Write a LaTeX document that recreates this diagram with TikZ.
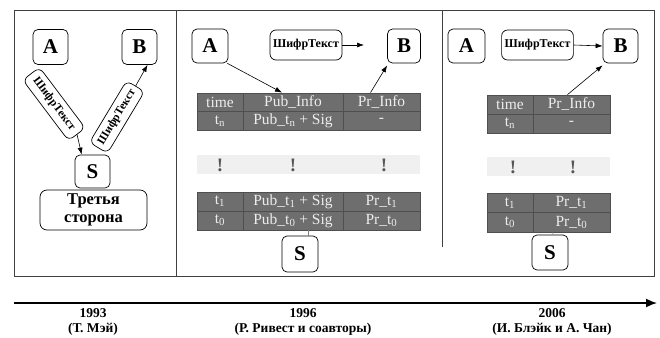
\documentclass[tikz,border=0pt]{standalone}
\usepackage{fontspec}
\setmainfont{Liberation Serif}
\usetikzlibrary{arrows.meta,calc}
\definecolor{cellfill}{HTML}{6E6E6E}
\definecolor{cellline}{HTML}{4F4F4F}
\definecolor{celltext}{HTML}{EDEDED}
\definecolor{dotband}{HTML}{F0F0F0}
\definecolor{dotcol}{HTML}{555555}
\begin{document}
\begin{tikzpicture}[x=1pt,y=-1pt,
  party/.style={draw, rounded corners=5pt, minimum width=35, minimum height=35, inner sep=0, line width=0.7pt, font=\fontsize{21}{21}\selectfont\bfseries},
  cipher/.style={draw, rounded corners=6pt, inner xsep=3, inner ysep=0, minimum height=30, line width=0.7pt, font=\fontsize{12}{12}\selectfont\bfseries},
  cell/.style={draw=cellline, fill=cellfill, text=celltext, inner sep=0, line width=0.8pt, font=\fontsize{15.5}{16}\selectfont},
  band/.style={fill=dotband, inner sep=0},
  dotmark/.style={text=dotcol, inner sep=0, font=\fontsize{19}{19}\selectfont\bfseries},
  conn/.style={-{Latex[length=7pt,width=5pt]}, line width=0.6pt},
  tick/.style={draw=gray, line width=0.6pt},
  frame/.style={line width=0.8pt, draw=black!75},
  year/.style={align=center, font=\fontsize{13.5}{15}\selectfont\bfseries},
]
\useasboundingbox (0,0) rectangle (660,337);

% frame
\coordinate (f1) at (14,10);
\coordinate (f2) at (654,276);
\draw[frame] (f1) rectangle (f2);
\coordinate (d1a) at (176,10);
\coordinate (d1b) at (176,276);
\draw[frame] (d1a) -- (d1b);
\coordinate (d2a) at (442,10);
\coordinate (d2b) at (442,247);
\draw[frame] (d2a) -- (d2b);

% ---------- panel 1993 ----------
\node[party] (lA) at (50.5,47) {A};
\node[party] (lB) at (139.5,47) {B};
\node[cipher, rotate=-53, minimum width=76, minimum height=21, font=\fontsize{11.5}{12}\selectfont\bfseries] (lc1) at (54,104) {ШифрТекст};
\node[cipher, rotate=59, minimum width=72, minimum height=21, font=\fontsize{11.5}{12}\selectfont\bfseries] (lc2) at (117,117) {ШифрТекст};
\node[party, minimum height=33] (lS) at (92.5,171.5) {S};
\node[draw, rounded corners=7pt, line width=0.7pt, minimum width=107, minimum height=40, inner sep=0, align=center, font=\fontsize{16.5}{18}\selectfont\bfseries] (l3) at (93.5,210) {Третья\\сторона};
\draw[conn] (lc1.east) -- ($(lS.north west)+(7,0)$);
\draw[conn] (lc2.east) -- ($(lB.south)+(8,0)$);

% ---------- panel 1996 ----------
\node[party, minimum width=36, minimum height=34] (mA) at (210,46) {A};
\node[party, minimum width=33, minimum height=34] (mB) at (404,46) {B};
\node[cipher, minimum width=72] (mc) at (306,45) {ШифрТекст};
\coordinate (mcend) at (364,45);
\draw[conn] (mc.east) -- (mcend);

\node[cell, minimum width=46, minimum height=18.5] (m11) at (220,102.25) {time};
\node[cell, minimum width=100, minimum height=18.5] (m12) at (293,102.25) {Pub\_Info};
\node[cell, minimum width=77, minimum height=18.5] (m13) at (381.5,102.25) {Pr\_Info};
\node[cell, minimum width=46, minimum height=18.5] (m21) at (220,120.75) {t\textsubscript{n}};
\node[cell, minimum width=100, minimum height=18.5] (m22) at (293,120.75) {Pub\_t\textsubscript{n} + Sig};
\node[cell, minimum width=77, minimum height=18.5] (m23) at (381.5,120.75) {-};

\node[band, minimum width=223, minimum height=19] (mband) at (308.5,164.5) {};
\node[dotmark] (md1) at (220,165) {!};
\node[dotmark] (md2) at (293,165) {!};
\node[dotmark] (md3) at (384,165) {!};

\node[cell, minimum width=46, minimum height=19] (m31) at (220,201.5) {t\textsubscript{1}};
\node[cell, minimum width=100, minimum height=19] (m32) at (293,201.5) {Pub\_t\textsubscript{1} + Sig};
\node[cell, minimum width=77, minimum height=19] (m33) at (381.5,201.5) {Pr\_t\textsubscript{1}};
\node[cell, minimum width=46, minimum height=19] (m41) at (220,220.5) {t\textsubscript{0}};
\node[cell, minimum width=100, minimum height=19] (m42) at (293,220.5) {Pub\_t\textsubscript{0} + Sig};
\node[cell, minimum width=77, minimum height=19] (m43) at (381.5,220.5) {Pr\_t\textsubscript{0}};

\node[party, minimum width=36, minimum height=36] (mS) at (300,254) {S};
\draw[tick] ($(mS.north)+(8,0)$) -- ($(m42.south)+(15,0)$);

\draw[conn] ($(mA.south east)+(-1,0)$) -- ($(m12.north)+(-11,0)$);
\draw[conn] ($(m13.north)+(-11,0)$) -- ($(mB.south west)+(0,2)$);

% ---------- panel 2006 ----------
\node[party, minimum width=37, minimum height=34] (rA) at (466.5,46) {A};
\node[party, minimum width=35, minimum height=34] (rB) at (620.5,46) {B};
\node[cipher, minimum width=71] (rc) at (537.5,45) {ШифрТекст};
\draw[conn] (rc.east) -- (rB.west);

\node[cell, minimum width=46, minimum height=19] (r11) at (510,104.5) {time};
\node[cell, minimum width=77, minimum height=19] (r12) at (571.5,104.5) {Pr\_Info};
\node[cell, minimum width=46, minimum height=19] (r21) at (510,123.5) {t\textsubscript{n}};
\node[cell, minimum width=77, minimum height=19] (r22) at (571.5,123.5) {-};

\node[band, minimum width=123, minimum height=19] (rband) at (548.5,166.5) {};
\node[dotmark] (rd1) at (513,167) {!};
\node[dotmark] (rd2) at (573,167) {!};

\node[cell, minimum width=46, minimum height=19.5] (r31) at (510,202.75) {t\textsubscript{1}};
\node[cell, minimum width=77, minimum height=19.5] (r32) at (571.5,202.75) {Pr\_t\textsubscript{1}};
\node[cell, minimum width=46, minimum height=19.5] (r41) at (510,222.25) {t\textsubscript{0}};
\node[cell, minimum width=77, minimum height=19.5] (r42) at (571.5,222.25) {Pr\_t\textsubscript{0}};

\node[party, minimum width=36, minimum height=35] (rS) at (550,252.5) {S};
\draw[tick] ($(rS.north)+(3,0)$) -- ($(r42.south west)+(20,0)$);

\draw[conn] ($(r12.north)+(-4,0)$) -- ($(rB.south west)+(0,2)$);

% ---------- timeline ----------
\coordinate (t0) at (14,303);
\coordinate (t1) at (657,303);
\draw[line width=1.6pt, -{Latex[length=11pt,width=9pt]}] (t0) -- (t1);
\node[year] (y1) at (93,321.5) {1993\\(Т. Мэй)};
\node[year] (y2) at (303,321.5) {1996\\(Р. Ривест и соавторы)};
\node[year] (y3) at (552,321.5) {2006\\(И. Блэйк и А. Чан)};
\end{tikzpicture}
\end{document}
